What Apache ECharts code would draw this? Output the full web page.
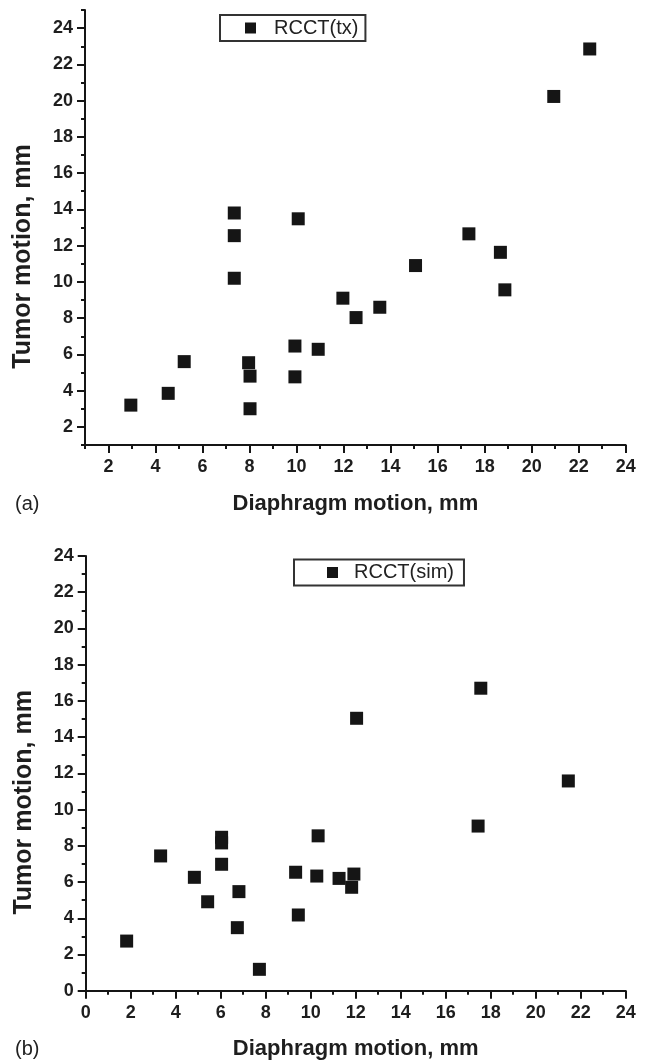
<!DOCTYPE html>
<html>
<head>
<meta charset="utf-8">
<script src="https://cdn.jsdelivr.net/npm/echarts@6/dist/echarts.min.js"></script>
<style>
html,body{margin:0;padding:0;background:#fff;}
#chart{width:648px;height:1061px;}
</style>
</head>
<body>
<div id="chart"></div>
<script>
// ---- data ----
const txDiaphragm = [2.95, 4.54, 5.22, 7.35, 7.96, 8.02, 8.02, 9.93, 9.93, 10.92, 7.35, 7.35, 10.07, 11.97, 12.53, 13.54, 15.06, 18.86, 18.67, 17.33, 20.94, 22.47];
const txTumor     = [3.2, 3.85, 5.6, 10.2, 5.54, 4.8, 3.0, 6.46, 4.76, 6.28, 13.8, 12.55, 13.48, 9.1, 8.03, 8.6, 10.9, 9.56, 11.63, 12.65, 20.23, 22.85];
const simDiaphragm = [1.82, 3.33, 4.83, 5.42, 6.04, 6.04, 6.04, 6.81, 6.74, 7.72, 9.33, 9.45, 10.27, 10.33, 11.26, 11.82, 11.92, 17.44, 12.04, 17.56, 21.45];
const simTumor     = [2.74, 7.44, 6.26, 4.91, 8.47, 8.16, 6.98, 5.47, 3.48, 1.18, 6.54, 4.18, 6.33, 8.55, 6.2, 5.71, 6.44, 9.09, 15.04, 16.7, 11.58];

const ticksA_major = [2, 4, 6, 8, 10, 12, 14, 16, 18, 20, 22, 24];
const ticksAx_minor = [1, 3, 5, 7, 9, 11, 13, 15, 17, 19, 21, 23];
const ticksAy_minor = [1, 3, 5, 7, 9, 11, 13, 15, 17, 19, 21, 23, 25];
const ticksB_major = [0, 2, 4, 6, 8, 10, 12, 14, 16, 18, 20, 22, 24];
const ticksB_minor = [1, 3, 5, 7, 9, 11, 13, 15, 17, 19, 21, 23];

const legendA = 'RCCT(tx)';
const legendB = 'RCCT(sim)';
const xTitle = 'Diaphragm motion, mm';
const yTitle = 'Tumor motion, mm';

// ---- styles ----
const INK = '#151515';
const FONT = '"Liberation Sans", Arial, sans-serif';
const lineStyle = {color: INK, width: 2};
const labelStyle = {color: '#1e1e1e', fontFamily: FONT, fontWeight: 'bold', fontSize: 18};

function majorAxis(dim, grid, min, max, major, opts) {
  const isX = dim === 'x';
  return Object.assign({
    type: 'value', gridIndex: grid, min: min, max: max, interval: 1,
    position: isX ? 'bottom' : 'left',
    splitLine: {show: false},
    axisLine: {show: true, onZero: false, lineStyle: lineStyle},
    axisTick: {show: true, inside: false, length: 8, customValues: major, lineStyle: {color: INK, width: 2}},
    axisLabel: {show: true, customValues: major, margin: isX ? 13 : 12, ...labelStyle},
  }, opts);
}
function minorAxis(dim, grid, min, max, minor) {
  const isX = dim === 'x';
  return {
    type: 'value', gridIndex: grid, min: min, max: max, interval: 1,
    position: isX ? 'bottom' : 'left',
    splitLine: {show: false},
    axisLine: {show: false, onZero: false},
    axisTick: {show: true, inside: false, length: 4, customValues: minor, lineStyle: {color: INK, width: 2}},
    axisLabel: {show: false},
  };
}

const xName = {
  name: xTitle, nameLocation: 'middle',
  nameTextStyle: {color: '#1e1e1e', fontFamily: FONT, fontWeight: 'bold', fontSize: 22, lineHeight: 22}
};
const yNameStyle = {color: '#1e1e1e', fontFamily: FONT, fontWeight: 'bold', fontSize: 25, lineHeight: 25, padding: [0, 58, 0, 0]};

const chart = echarts.init(document.getElementById('chart'), null, {renderer: 'canvas'});
chart.setOption({
  backgroundColor: '#fff',
  animation: false,
  title: [
    {text: '(a)', left: 15, top: 494, padding: 0, textStyle: {color: '#222', fontFamily: FONT, fontWeight: 'normal', fontSize: 20}},
    {text: '(b)', left: 15, top: 1039, padding: 0, textStyle: {color: '#222', fontFamily: FONT, fontWeight: 'normal', fontSize: 20}}
  ],
  grid: [
    {left: 85, right: 22.3, top: 10, height: 435, containLabel: false},
    {left: 85.7, right: 22.3, top: 556, height: 434.7, containLabel: false}
  ],
  legend: [
    {
      data: [legendA], left: 220, top: 15, orient: 'horizontal',
      padding: [3, 7, 3, 25], borderColor: '#333', borderWidth: 2, backgroundColor: '#fff',
      itemWidth: 11, itemHeight: 11, icon: 'rect', selectedMode: false,
      textStyle: {color: '#222', fontFamily: FONT, fontSize: 20, padding: [0, 0, 0, 13]}
    },
    {
      data: [legendB], left: 294, top: 559.5, orient: 'horizontal',
      padding: [3, 10, 3, 33], borderColor: '#333', borderWidth: 2, backgroundColor: '#fff',
      itemWidth: 11, itemHeight: 11, icon: 'rect', selectedMode: false,
      textStyle: {color: '#222', fontFamily: FONT, fontSize: 20, padding: [0, 0, 0, 11]}
    }
  ],
  xAxis: [
    majorAxis('x', 0, 1, 24, ticksA_major, Object.assign({nameGap: 48}, xName)),
    majorAxis('x', 1, 0, 24, ticksB_major, Object.assign({nameGap: 47}, xName)),
    minorAxis('x', 0, 1, 24, ticksAx_minor),
    minorAxis('x', 1, 0, 24, ticksB_minor)
  ],
  yAxis: [
    majorAxis('y', 0, 1, 25, ticksA_major, {name: yTitle, nameLocation: 'middle', nameGap: 49, nameRotate: 90, nameTextStyle: yNameStyle}),
    majorAxis('y', 1, 0, 24, ticksB_major, {name: yTitle, nameLocation: 'middle', nameGap: 49, nameRotate: 90, nameTextStyle: yNameStyle}),
    minorAxis('y', 0, 1, 25, ticksAy_minor),
    minorAxis('y', 1, 0, 24, ticksB_minor)
  ],
  series: [
    {
      name: legendA, type: 'scatter', xAxisIndex: 0, yAxisIndex: 0,
      symbol: 'rect', symbolSize: 13, itemStyle: {color: INK, opacity: 1},
      data: txDiaphragm.map((x, i) => [x, txTumor[i]])
    },
    {
      name: legendB, type: 'scatter', xAxisIndex: 1, yAxisIndex: 1,
      symbol: 'rect', symbolSize: 13, itemStyle: {color: INK, opacity: 1},
      data: simDiaphragm.map((x, i) => [x, simTumor[i]])
    }
  ]
});
</script>
</body>
</html>
